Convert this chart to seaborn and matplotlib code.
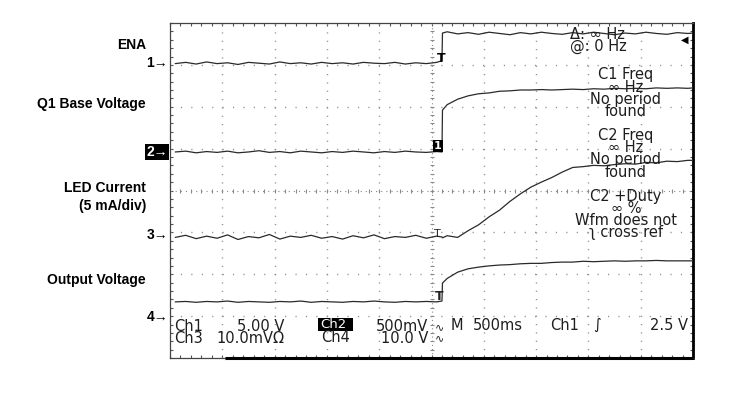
import numpy as np
import pandas as pd
import seaborn as sns
import matplotlib
matplotlib.use("Agg")
import matplotlib.pyplot as plt
from matplotlib.patches import Rectangle
from matplotlib.ticker import MultipleLocator

# Sample times, in horizontal divisions (500 ms/div)
time_div = [0.1, 0.3, 0.5, 0.7, 0.9, 1.1, 1.3, 1.5, 1.7, 1.9, 2.1, 2.3, 2.5,
            2.7, 2.9, 3.1, 3.3, 3.5, 3.7, 3.9, 4.1, 4.3, 4.5, 4.7, 4.9, 5.1,
            5.2, 5.21, 5.3, 5.5, 5.7, 5.9, 6.1, 6.3, 6.5, 6.7, 6.9, 7.1, 7.3,
            7.5, 7.7, 7.9, 8.1, 8.3, 8.5, 8.7, 8.9, 9.1, 9.3, 9.5, 9.7, 9.9, 10.0]

# Trace levels in vertical divisions
ena = [7.03, 7.06, 7.02, 7.07, 7.03, 7.05, 7.01, 7.06, 7.04, 7.02, 7.07, 7.03, 7.05,
       7.02, 7.06, 7.03, 7.05, 7.02, 7.06, 7.04, 7.03, 7.06, 7.02, 7.05, 7.03, 7.06,
       7.10, 7.76, 7.79, 7.74, 7.77, 7.73, 7.78, 7.75, 7.72, 7.77, 7.74, 7.78, 7.75,
       7.73, 7.77, 7.74, 7.78, 7.75, 7.72, 7.76, 7.74, 7.78, 7.75, 7.73, 7.77, 7.75, 7.76]
q1_base = [4.92, 4.94, 4.90, 4.93, 4.91, 4.94, 4.90, 4.92, 4.95, 4.91, 4.93, 4.90, 4.94,
           4.92, 4.90, 4.93, 4.91, 4.94, 4.92, 4.90, 4.93, 4.91, 4.94, 4.92, 4.91, 4.93,
           4.92, 5.92, 6.05, 6.18, 6.26, 6.31, 6.33, 6.37, 6.38, 6.40, 6.40, 6.41, 6.40,
           6.41, 6.42, 6.41, 6.43, 6.42, 6.44, 6.43, 6.44, 6.43, 6.45, 6.44, 6.45, 6.44, 6.45]
led_current = [2.88, 2.93, 2.85, 2.91, 2.86, 2.94, 2.83, 2.90, 2.87, 2.95, 2.84, 2.91, 2.88,
               2.93, 2.86, 2.90, 2.84, 2.92, 2.87, 2.94, 2.85, 2.90, 2.88, 2.93, 2.86, 2.91,
               2.89, 2.87, 2.92, 2.88, 3.04, 3.18, 3.37, 3.53, 3.74, 3.92, 4.08, 4.20, 4.31,
               4.44, 4.55, 4.57, 4.60, 4.59, 4.62, 4.64, 4.63, 4.67, 4.66, 4.70, 4.69, 4.72, 4.72]
out_voltage = [1.34, 1.35, 1.33, 1.35, 1.34, 1.36, 1.33, 1.35, 1.34, 1.33, 1.35, 1.34, 1.36,
               1.33, 1.35, 1.34, 1.33, 1.35, 1.34, 1.36, 1.34, 1.33, 1.35, 1.34, 1.35, 1.34,
               1.36, 1.79, 1.90, 2.05, 2.13, 2.17, 2.20, 2.22, 2.23, 2.25, 2.26, 2.26, 2.28,
               2.29, 2.29, 2.31, 2.30, 2.31, 2.32, 2.31, 2.32, 2.32, 2.33, 2.32, 2.32, 2.32, 2.32]

channels = {"ENA": ena, "Q1 Base Voltage": q1_base,
            "LED Current": led_current, "Output Voltage": out_voltage}

# on-screen read-outs
readout_lines = ["C1 Freq", "∞ Hz", "No period", "found", "",
                 "C2 Freq", "∞ Hz", "No period", "found", "",
                 "C2 +Duty", "∞ %", "Wfm does not", "ʅ cross ref"]
cursor_lines = ["Δ: ∞ Hz", "@: 0 Hz"]

df = pd.concat([pd.DataFrame({"time": time_div, "level": v, "channel": k})
                for k, v in channels.items()], ignore_index=True)

sns.set_style("white")
plt.rcParams["font.family"] = ["DejaVu Sans"]
plt.rcParams["lines.scale_dashes"] = False

W, H = 751, 393
fig = plt.figure(figsize=(W / 100, H / 100), dpi=100)
ax = fig.add_axes([170 / W, 1 - 358 / H, 523 / W, 335 / H])


def fx(x):
    return x / W


def fy(y):
    return 1 - y / H


def block(x, y_first, y_last, lines, ha, fs, asc=0.76, desc=0.27, **kw):
    """Multi-line text whose first/last line centres sit at y_first/y_last (px)."""
    em = fs * 100 / 72
    pitch = (y_last - y_first) / (len(lines) - 1)
    ls = (pitch - desc * em) / (asc * em)
    yc = (y_first + y_last) / 2 + 1.4
    fig.text(fx(x), fy(yc), "\n".join(lines), ha=ha, va="center", multialignment=ha,
             fontsize=fs, linespacing=ls, **kw)


# graticule: dotted lines at each division
dot_c = "#8a8a8a"
for gx in range(1, 10):
    if gx == 5:
        continue
    ax.axvline(gx, color=dot_c, lw=1.0, ls=(0, (0.8, 5.2)), zorder=1)
for gy in range(1, 8):
    if gy == 4:
        continue
    ax.axhline(gy, color=dot_c, lw=1.0, ls=(0, (0.8, 6.7)), zorder=1)

# centre cross-hair with small ticks
ticks_y = np.arange(0.2, 8.0, 0.2)
ticks_x = np.arange(0.2, 10.0, 0.2)
ax.plot(np.full_like(ticks_y, 5.0), ticks_y, ls="none", marker="_", ms=3,
        mew=0.8, color="#8a8a8a", zorder=1)
ax.plot(ticks_x, np.full_like(ticks_x, 4.0), ls="none", marker="|", ms=3,
        mew=0.8, color="#8a8a8a", zorder=1)
ax.axvline(5.0, color=dot_c, lw=0.8, ls=(0, (0.8, 2.2)), zorder=1)
ax.axhline(4.0, color=dot_c, lw=0.8, ls=(0, (0.8, 2.9)), zorder=1)

sns.lineplot(data=df, x="time", y="level", hue="channel", units="channel",
             estimator=None, sort=False, legend=False, lw=0.9,
             palette={k: "#2a2a2a" for k in channels}, ax=ax, zorder=3)

ax.set_xlim(0, 10)
ax.set_ylim(0, 8)
ax.set_xlabel("")
ax.set_ylabel("")
ax.xaxis.set_major_locator(MultipleLocator(1))
ax.xaxis.set_minor_locator(MultipleLocator(0.2))
ax.yaxis.set_major_locator(MultipleLocator(1))
ax.yaxis.set_minor_locator(MultipleLocator(0.2))
ax.tick_params(which="both", direction="in", length=2.5, width=0.8,
               top=True, right=True, bottom=True, left=True,
               labelbottom=False, labelleft=False, color="#555555")
for side in ["left", "top"]:
    ax.spines[side].set_linewidth(0.9)
    ax.spines[side].set_color("#444444")
ax.spines["right"].set_linewidth(2.0)
ax.spines["right"].set_color("black")
ax.spines["bottom"].set_linewidth(0.9)
ax.spines["bottom"].set_color("#444444")
ax.plot([1.05, 10.0], [0, 0], color="black", lw=2.2, clip_on=False,
        solid_capstyle="butt", zorder=5)

# trace markers at the trigger point
ax.text(5.18, 7.16, "T", ha="center", va="center", fontsize=9,
        fontweight="bold", color="black", zorder=4)
ax.text(5.12, 5.06, "1", ha="center", va="center", fontsize=8,
        fontweight="bold", color="white", zorder=4,
        bbox=dict(boxstyle="square,pad=0.1", fc="black", ec="none"))
ax.text(5.12, 2.95, "T", ha="center", va="center", fontsize=8, color="#222222", zorder=4)
ax.text(5.15, 1.47, "T", ha="center", va="center", fontsize=9,
        fontweight="bold", color="#222222", zorder=4)
ax.text(9.92, 7.6, "◀", ha="right", va="center", fontsize=7, color="black", zorder=4)

# measurement read-outs
FS = 10.5
tc = "#1e1e1e"
block(570, 33, 45, cursor_lines, "left", FS, color=tc)
block(626, 72, 233, readout_lines, "center", FS, color=tc)

# settings lines at the bottom of the screen
block(174, 325, 337, ["Ch1", "Ch3"], "left", FS, color=tc)
block(284, 325, 337, ["5.00 V", "10.0mVΩ"], "right", FS, color=tc)
block(428, 325, 337, ["500mV", "10.0 V"], "right", FS, color=tc)
block(440, 325, 337, ["∿", "∿"], "center", 8, color=tc)
fig.text(fx(321), fy(338), "Ch4", ha="left", va="center", fontsize=FS, color=tc)
fig.patches.append(Rectangle((fx(318), fy(331)), 35 / W, 13 / H, transform=fig.transFigure,
                             fc="black", ec="none", figure=fig))
fig.text(fx(320), fy(324.5), "Ch2", ha="left", va="center", fontsize=9.5, color="white")
for txt, px in [("M", 451), ("500ms", 473), ("Ch1", 550), ("∫", 593)]:
    fig.text(fx(px), fy(325), txt, ha="left", va="center", fontsize=FS, color=tc)
fig.text(fx(688), fy(325), "2.5 V", ha="right", va="center", fontsize=FS, color=tc)

# channel names on the left
lab = dict(fontweight="bold", family=["Liberation Sans", "DejaVu Sans"], color="black")
fig.text(fx(146), fy(45), "ENA", ha="right", va="center", fontsize=10, **lab)
fig.text(fx(146), fy(104), "Q1 Base Voltage", ha="right", va="center", fontsize=10, **lab)
block(146, 187, 204, ["LED Current", "(5 mA/div)"], "right", 10, asc=0.73, desc=0.22, **lab)
fig.text(fx(146), fy(280), "Output Voltage", ha="right", va="center", fontsize=10, **lab)

# channel ground markers
fig.text(fx(168), fy(63), "1→", ha="right", va="center", fontsize=10, **lab)
fig.text(fx(168), fy(235), "3→", ha="right", va="center", fontsize=10, **lab)
fig.text(fx(168), fy(317), "4→", ha="right", va="center", fontsize=10, **lab)
fig.text(fx(168), fy(152), "2→", ha="right", va="center", fontsize=10,
         fontweight="bold", color="white", family=["Liberation Sans", "DejaVu Sans"],
         bbox=dict(boxstyle="square,pad=0.08", fc="black", ec="none"))

fig.savefig("out.png", dpi=100, facecolor="white")
